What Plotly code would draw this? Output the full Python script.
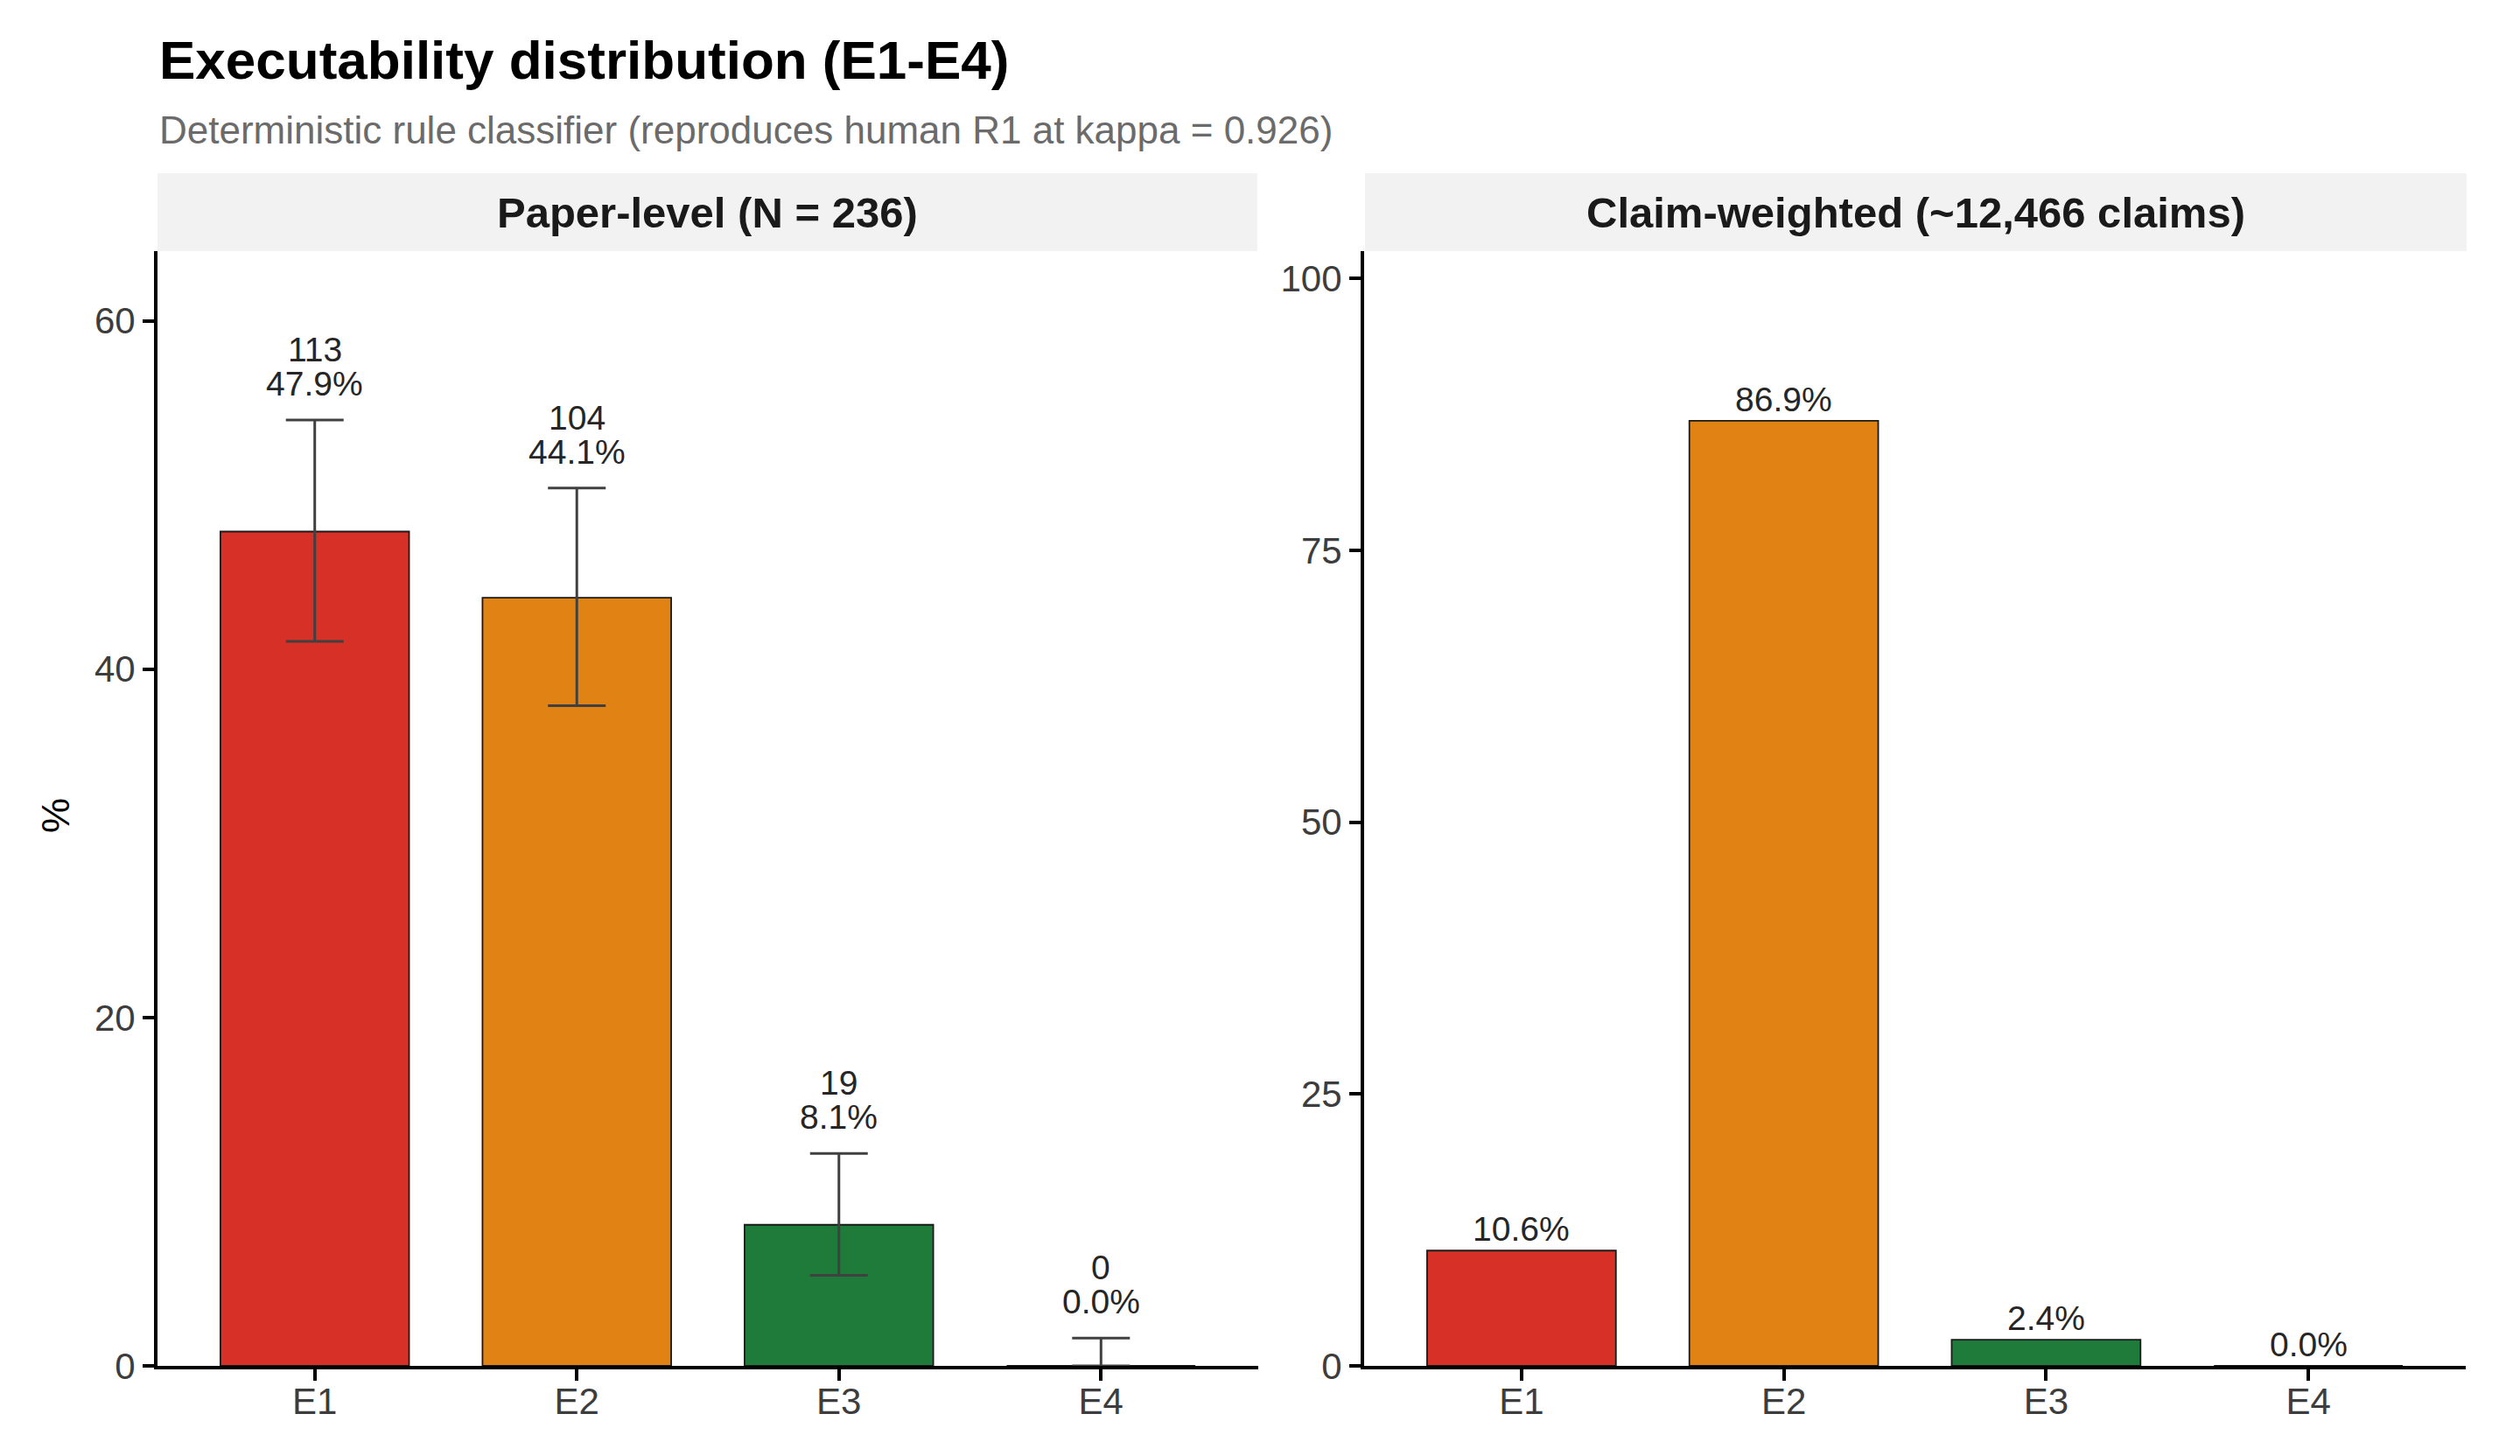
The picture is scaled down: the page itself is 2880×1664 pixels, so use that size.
import plotly.graph_objects as go

# ---- data ----
categories = ["E1", "E2", "E3", "E4"]
paper_pct = [47.9, 44.1, 8.1, 0.0]
paper_counts = [113, 104, 19, 0]
paper_ci_low = [41.6, 37.9, 5.2, 0.0]
paper_ci_high = [54.3, 50.4, 12.2, 1.6]
claim_pct = [10.6, 86.9, 2.4, 0.0]
bar_colors = ["#D73027", "#E08214", "#1E7B3A", "#7B3294"]

title = "Executability distribution (E1-E4)"
subtitle = "Deterministic rule classifier (reproduces human R1 at kappa = 0.926)"
strip_left = "Paper-level (N = 236)"
strip_right = "Claim-weighted (~12,466 claims)"

W, H = 2880, 1664
FONT = "Liberation Sans, Arial, Helvetica, sans-serif"

def px_x(p):
    return p / W

def px_y(p):
    return 1 - p / H

fig = go.Figure()

err_plus = [h - v for h, v in zip(paper_ci_high, paper_pct)]
err_minus = [v - l for v, l in zip(paper_pct, paper_ci_low)]

fig.add_trace(go.Bar(
    x=categories, y=paper_pct, width=0.72,
    marker=dict(color=bar_colors, line=dict(color="#1a1a1a", width=1.8)),
    error_y=dict(type="data", array=err_plus, arrayminus=err_minus,
                 color="#404040", thickness=3, width=33, visible=True),
    xaxis="x", yaxis="y", showlegend=False, hoverinfo="skip",
))
fig.add_trace(go.Bar(
    x=categories, y=claim_pct, width=0.72,
    marker=dict(color=bar_colors, line=dict(color="#1a1a1a", width=1.8)),
    xaxis="x2", yaxis="y2", showlegend=False, hoverinfo="skip",
))

annotations = []
LBL = dict(family=FONT, size=39, color="#262626")
for c, v, n, hi in zip(categories, paper_pct, paper_counts, paper_ci_high):
    annotations.append(dict(x=c, y=hi, xref="x", yref="y", text=f"{v:.1f}%",
                            showarrow=False, yanchor="bottom", yshift=18, font=LBL))
    annotations.append(dict(x=c, y=hi, xref="x", yref="y", text=f"{n}",
                            showarrow=False, yanchor="bottom", yshift=57, font=LBL))
for c, v in zip(categories, claim_pct):
    annotations.append(dict(x=c, y=v, xref="x2", yref="y2", text=f"{v:.1f}%",
                            showarrow=False, yanchor="bottom", yshift=1, font=LBL))

# titles
annotations.append(dict(x=px_x(180), y=px_y(32), xref="paper", yref="paper", text=f"<b>{title}</b>",
                        showarrow=False, xanchor="left", yanchor="top",
                        font=dict(family=FONT, size=62, color="#000000")))
annotations.append(dict(x=px_x(180), y=px_y(122), xref="paper", yref="paper", text=subtitle,
                        showarrow=False, xanchor="left", yanchor="top",
                        font=dict(family=FONT, size=44, color="#6b6b6b")))
# strips
annotations.append(dict(x=(px_x(180) + px_x(1437)) / 2, y=px_y(242.5), xref="paper", yref="paper",
                        text=f"<b>{strip_left}</b>", showarrow=False, xanchor="center", yanchor="middle",
                        font=dict(family=FONT, size=49, color="#1a1a1a")))
annotations.append(dict(x=(px_x(1560) + px_x(2819)) / 2, y=px_y(242.5), xref="paper", yref="paper",
                        text=f"<b>{strip_right}</b>", showarrow=False, xanchor="center", yanchor="middle",
                        font=dict(family=FONT, size=49, color="#1a1a1a")))
# y-axis title
annotations.append(dict(x=px_x(63), y=px_y(932), xref="paper", yref="paper", text="%",
                        showarrow=False, xanchor="center", yanchor="middle", textangle=-90,
                        font=dict(family=FONT, size=45, color="#000000")))

shapes = [
    dict(type="rect", xref="paper", yref="paper", x0=px_x(180), x1=px_x(1437),
         y0=px_y(287), y1=px_y(198), fillcolor="#F2F2F2", line=dict(width=0), layer="below"),
    dict(type="rect", xref="paper", yref="paper", x0=px_x(1560), x1=px_x(2819),
         y0=px_y(287), y1=px_y(198), fillcolor="#F2F2F2", line=dict(width=0), layer="below"),
]

TICKFONT = dict(family=FONT, size=42, color="#3d3d3d")
xcommon = dict(type="category", range=[-0.6, 3.6], showline=True, linecolor="#000000", linewidth=4,
               ticks="outside", ticklen=13, tickwidth=4, tickcolor="#000000", tickfont=TICKFONT,
               showgrid=False, zeroline=False, fixedrange=True, automargin=False,
               ticklabelstandoff=-12)
ycommon = dict(showline=True, linecolor="#000000", linewidth=4,
               ticks="outside", ticklen=13, tickwidth=4, tickcolor="#000000", tickfont=TICKFONT,
               showgrid=False, zeroline=False, fixedrange=True, automargin=False)

fig.update_layout(
    width=W, height=H,
    margin=dict(l=0, r=0, t=0, b=0, pad=0),
    paper_bgcolor="#FFFFFF", plot_bgcolor="#FFFFFF",
    bargap=0.28,
    xaxis=dict(domain=[px_x(180), px_x(1438)], anchor="y", **xcommon),
    xaxis2=dict(domain=[px_x(1559), px_x(2818)], anchor="y2", **xcommon),
    yaxis=dict(domain=[px_y(1561), px_y(287)], anchor="x", range=[0, 64.0],
               tickvals=[0, 20, 40, 60], **ycommon),
    yaxis2=dict(domain=[px_y(1561), px_y(287)], anchor="x2", range=[0, 102.5],
                tickvals=[0, 25, 50, 75, 100], **ycommon),
    annotations=annotations,
    shapes=shapes,
    font=dict(family=FONT),
)

fig.write_html("out.html")
